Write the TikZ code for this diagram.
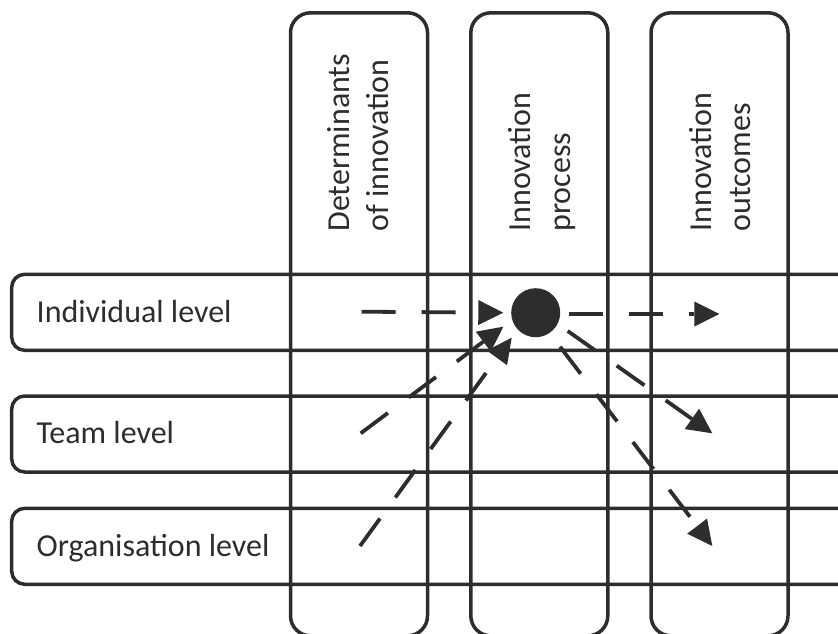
\documentclass[tikz,border=0pt]{standalone}
\usepackage{fontspec}
\setmainfont{Carlito}
\usetikzlibrary{arrows.meta}
\definecolor{ink}{RGB}{45,46,43}
\begin{document}
\begin{tikzpicture}[x=1pt,y=-1pt,
  box/.style={draw=ink, line width=3.5pt, rectangle, inner sep=0pt},
  rowbox/.style={box, rounded corners=13pt, minimum width=858pt, minimum height=76pt},
  colbox/.style={box, rounded corners=20pt, minimum width=137pt, minimum height=623pt},
  lab/.style={text=ink, font=\fontsize{32}{38}\selectfont, inner sep=0pt, anchor=base west},
  vlab/.style={lab, rotate=90},
  flow/.style={draw=ink, line width=3.8pt, dash pattern=on 34pt off 26pt,
    -{Triangle[length=25pt,width=25pt,line width=0pt]}},
]
\useasboundingbox (0,0) rectangle (838,634);
\clip (0,0) rectangle (838,634);

% rows
\node[rowbox] (r1) at (440.7,312.3) {};
\node[rowbox] (r2) at (440.7,434) {};
\node[rowbox] (r3) at (440.7,546.3) {};
% columns
\node[colbox] (c1) at (359,324.3) {};
\node[colbox] (c2) at (539.3,324.3) {};
\node[colbox] (c3) at (719.5,324.3) {};

% row labels
\node[lab] (t1) at (36.5,322.7) {Individual level};
\node[lab] (t2) at (36.5,443.5) {Team level};
\node[lab] (t3) at (36.5,556) {Organisation level};

% column labels
\node[vlab] (h1a) at (349.4,231.7) {Determinants};
\node[vlab] (h1b) at (388.5,231.7) {of innovation};
\node[vlab] (h2a) at (530.9,231.7) {Innovation};
\node[vlab] (h2b) at (570,231.7) {process};
\node[vlab] (h3a) at (711.7,231.7) {Innovation};
\node[vlab] (h3b) at (750.8,231.7) {outcomes};

% central dot
\node[circle, fill=ink, minimum size=49pt, inner sep=0pt] (dot) at (535.7,312.7) {};

% arrow end points
\coordinate (a1s) at (361.7,311.7);
\coordinate (a1e) at (503.3,312.7);
\coordinate (a2s) at (569.3,314);
\coordinate (a2e) at (719.3,314);
\coordinate (a3s) at (360.7,433.3);
\coordinate (a3e) at (503.3,326.7);
\coordinate (a4s) at (360,546);
\coordinate (a4e) at (511.7,337.7);
\coordinate (a5s) at (567.7,331);
\coordinate (a5e) at (712.3,433.3);
\coordinate (a6s) at (560,346.7);
\coordinate (a6e) at (712.3,546);

\draw[flow] (a1s) -- (a1e);
\draw[flow] (a2s) -- (a2e);
\draw[flow] (a3s) -- (a3e);
\draw[flow] (a4s) -- (a4e);
\draw[flow] (a5s) -- (a5e);
\draw[flow] (a6s) -- (a6e);
\end{tikzpicture}
\end{document}
